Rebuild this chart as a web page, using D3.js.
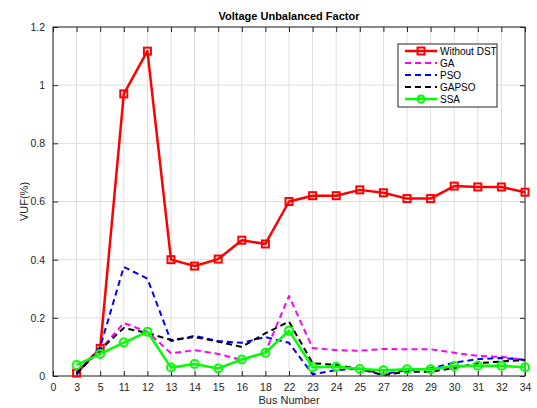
<!DOCTYPE html>
<html>
<head>
<meta charset="utf-8">
<script src="https://cdn.jsdelivr.net/npm/d3@7"></script>
<style>
  body { margin: 0; background: #fff; }
  svg { font-family: "Liberation Sans", Arial, sans-serif; }
</style>
</head>
<body>
<div class="chartwrap"></div>
<script>
var width = 537, height = 408;
var margin = {top: 27, right: 12, bottom: 32, left: 53};

// bus labels on the x axis (position 0 is the empty "0" slot)
var tickLabels = ["0", "3", "5", "11", "12", "13", "14", "15", "16", "18", "22",
                  "23", "24", "25", "27", "28", "29", "30", "31", "32", "34"];
var buses = tickLabels.slice(1);

var withoutDST = [0.01, 0.095, 0.97, 1.117, 0.40, 0.378, 0.402, 0.467, 0.454, 0.60,
                  0.62, 0.62, 0.64, 0.63, 0.61, 0.61, 0.653, 0.65, 0.65, 0.632];
var ga    = [0.01, 0.09, 0.182, 0.152, 0.078, 0.089, 0.076, 0.055, 0.082, 0.275,
             0.096, 0.089, 0.087, 0.093, 0.092, 0.092, 0.08, 0.069, 0.066, 0.055];
var pso   = [0.005, 0.10, 0.375, 0.335, 0.12, 0.138, 0.12, 0.114, 0.134, 0.114,
             0.006, 0.02, 0.026, 0.006, 0.02, 0.026, 0.046, 0.058, 0.062, 0.055];
var gapso = [0.01, 0.09, 0.165, 0.148, 0.124, 0.134, 0.118, 0.10, 0.147, 0.187,
             0.044, 0.038, 0.024, 0.003, 0.015, 0.015, 0.027, 0.044, 0.05, 0.055];
var ssa   = [0.038, 0.076, 0.115, 0.152, 0.029, 0.041, 0.026, 0.057, 0.08, 0.156,
             0.03, 0.032, 0.024, 0.02, 0.023, 0.023, 0.034, 0.035, 0.035, 0.03];

var yTicks = [0, 0.2, 0.4, 0.6, 0.8, 1, 1.2];

var series = [
    {name: "Without DST", values: withoutDST, color: "#ff0000", dash: null, width: 2.5, marker: "square"},
    {name: "GA", values: ga, color: "#ff00ff", dash: "6,4", width: 2, marker: null},
    {name: "PSO", values: pso, color: "#0000ff", dash: "6,4", width: 2, marker: null},
    {name: "GAPSO", values: gapso, color: "#000000", dash: "6,4", width: 2, marker: null},
    {name: "SSA", values: ssa, color: "#00ff00", dash: null, width: 2.5, marker: "circle"}
];

var pw = width - margin.left - margin.right,
    ph = height - margin.top - margin.bottom;

var svg = d3.select(".chartwrap").append("svg")
    .attr("width", width)
    .attr("height", height);

var g = svg.append("g")
    .attr("transform", "translate(" + margin.left + "," + margin.top + ")");

var x = d3.scaleLinear().domain([0, tickLabels.length - 1]).range([0, pw]);
var y = d3.scaleLinear().domain([0, 1.2]).range([ph, 0]);

// grid
g.append("g").selectAll("line")
    .data(d3.range(tickLabels.length))
    .enter().append("line")
    .attr("x1", function(d) { return x(d); })
    .attr("x2", function(d) { return x(d); })
    .attr("y1", 0).attr("y2", ph)
    .attr("stroke", "#dedede").attr("stroke-width", 1);

g.append("g").selectAll("line")
    .data(yTicks)
    .enter().append("line")
    .attr("x1", 0).attr("x2", pw)
    .attr("y1", function(d) { return y(d); })
    .attr("y2", function(d) { return y(d); })
    .attr("stroke", "#dedede").attr("stroke-width", 1);

// axes (ticks inward, matlab style)
var xAxis = d3.axisBottom(x)
    .tickValues(d3.range(tickLabels.length))
    .tickFormat(function(d) { return tickLabels[d]; })
    .tickSizeInner(-5).tickSizeOuter(0).tickPadding(8);

var yAxis = d3.axisLeft(y)
    .tickValues(yTicks)
    .tickFormat(function(d) { return d; })
    .tickSizeInner(-5).tickSizeOuter(0).tickPadding(8);

function styleAxis(ax) {
    ax.select(".domain").remove();
    ax.selectAll(".tick line").attr("stroke", "#262626");
    ax.selectAll(".tick text").attr("fill", "#262626").style("font-size", "10.5px")
        .style("font-family", "Liberation Sans, Arial, sans-serif");
}

g.append("g")
    .attr("transform", "translate(0," + ph + ")")
    .call(xAxis).call(styleAxis);

g.append("g")
    .call(yAxis).call(styleAxis);

// top and right ticks
g.append("g").call(d3.axisTop(x).tickValues(d3.range(tickLabels.length))
    .tickSizeInner(-5).tickSizeOuter(0).tickFormat(""))
    .call(styleAxis);
g.append("g").attr("transform", "translate(" + pw + ",0)")
    .call(d3.axisRight(y).tickValues(yTicks).tickSizeInner(-5).tickSizeOuter(0).tickFormat(""))
    .call(styleAxis);

// frame
g.append("rect")
    .attr("width", pw).attr("height", ph)
    .attr("fill", "none").attr("stroke", "#262626").attr("stroke-width", 1);

// lines
var line = d3.line()
    .x(function(d, i) { return x(i + 1); })
    .y(function(d) { return y(d); });

series.forEach(function(s) {
    g.append("path")
        .datum(s.values)
        .attr("fill", "none")
        .attr("stroke", s.color)
        .attr("stroke-width", s.width)
        .attr("stroke-dasharray", s.dash)
        .attr("stroke-linejoin", "round")
        .attr("d", line);

    if (s.marker == "square") {
        g.append("g").selectAll("rect")
            .data(s.values)
            .enter().append("rect")
            .attr("x", function(d, i) { return x(i + 1) - 3.5; })
            .attr("y", function(d) { return y(d) - 3.5; })
            .attr("width", 7).attr("height", 7)
            .attr("fill", "none").attr("stroke", s.color).attr("stroke-width", 2);
    } else if (s.marker == "circle") {
        g.append("g").selectAll("circle")
            .data(s.values)
            .enter().append("circle")
            .attr("cx", function(d, i) { return x(i + 1); })
            .attr("cy", function(d) { return y(d); })
            .attr("r", 4)
            .attr("fill", "none").attr("stroke", s.color).attr("stroke-width", 2);
    }
});

// titles
svg.append("text")
    .attr("x", margin.left + pw / 2).attr("y", 20)
    .attr("text-anchor", "middle")
    .style("font-size", "11px").style("font-weight", "bold")
    .attr("fill", "#000")
    .text("Voltage Unbalanced Factor");

svg.append("text")
    .attr("x", margin.left + pw / 2).attr("y", 404)
    .attr("text-anchor", "middle")
    .style("font-size", "11px")
    .attr("fill", "#262626")
    .text("Bus Number");

svg.append("text")
    .attr("transform", "translate(28," + (margin.top + ph / 2) + ") rotate(-90)")
    .attr("text-anchor", "middle")
    .style("font-size", "11px")
    .attr("fill", "#262626")
    .text("VUF(%)");

// legend
var legend = svg.append("g").attr("transform", "translate(398,44)");
legend.append("rect")
    .attr("width", 99).attr("height", 63)
    .attr("fill", "#fff").attr("stroke", "#262626").attr("stroke-width", 1);

var items = legend.selectAll(".legend")
    .data(series)
    .enter().append("g")
    .attr("class", "legend")
    .attr("transform", function(d, i) { return "translate(0," + (7 + i * 12) + ")"; });

items.append("line")
    .attr("x1", 7).attr("x2", 39)
    .attr("stroke", function(d) { return d.color; })
    .attr("stroke-width", function(d) { return d.width; })
    .attr("stroke-dasharray", function(d) { return d.dash; });

items.filter(function(d) { return d.marker == "square"; })
    .append("rect")
    .attr("x", 19.5).attr("y", -3.5).attr("width", 7).attr("height", 7)
    .attr("fill", "none").attr("stroke", function(d) { return d.color; }).attr("stroke-width", 2);

items.filter(function(d) { return d.marker == "circle"; })
    .append("circle")
    .attr("cx", 23).attr("r", 3.5)
    .attr("fill", "none").attr("stroke", function(d) { return d.color; }).attr("stroke-width", 2);

items.append("text")
    .attr("x", 42).attr("dy", "0.35em")
    .style("font-size", "10px")
    .attr("fill", "#000")
    .text(function(d) { return d.name; });
</script>
</body>
</html>
